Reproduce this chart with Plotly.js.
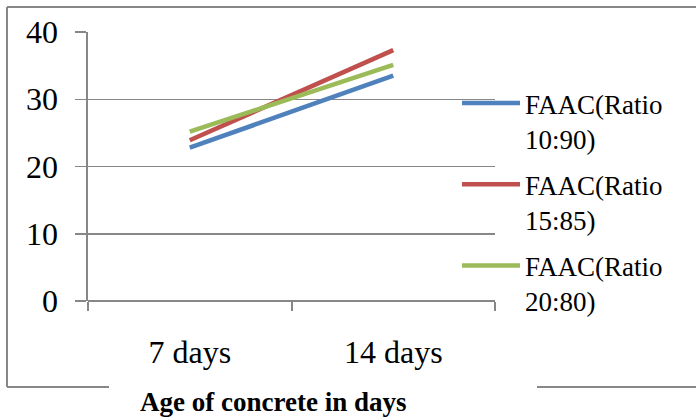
<!DOCTYPE html>
<html>
<head>
<meta charset="utf-8">
<script src="https://cdn.plot.ly/plotly-3.0.1.min.js"></script>
<style>
  html, body { margin: 0; padding: 0; background: #fff; }
  #chart { width: 696px; height: 420px; }
</style>
</head>
<body>
<div id="chart"></div>
<script>
// Concrete age categories
const ages = ['7 days', '14 days'];

// Strength per mix ratio
const ratio10_90 = [22.8, 33.5];
const ratio15_85 = [23.9, 37.3];
const ratio20_80 = [25.2, 35.1];

const seriesNames = ['FAAC(Ratio<br>10:90)', 'FAAC(Ratio<br>15:85)', 'FAAC(Ratio<br>20:80)'];
const seriesColors = ['#4F81BD', '#C0504D', '#9BBB59'];
const seriesValues = [ratio10_90, ratio15_85, ratio20_80];

const yTicks = [0, 10, 20, 30, 40];
const xTitle = 'Age of concrete in days';

const gridGrey = '#878787';
const serif = 'Liberation Serif';

const traces = seriesValues.map((vals, i) => ({
  type: 'scatter',
  mode: 'lines',
  x: ages,
  y: vals,
  name: seriesNames[i],
  legendgroup: 'g' + i,
  line: { color: seriesColors[i], width: 4.5, shape: 'linear' },
  hoverinfo: 'skip'
}));

// Plot-area geometry in pixels, and helpers to place paper-referenced items
const L = 88, W = 407, T = 32, H = 269;
const px = v => (v - L) / W;
const py = v => (T + H - v) / H;

// Frame around the chart, broken at the bottom where the axis title sits
const frame = { type: 'line', xref: 'paper', yref: 'paper', line: { color: gridGrey, width: 2 } };
const shapes = [
  Object.assign({}, frame, { x0: px(7), x1: px(7), y0: py(7), y1: py(387) }),
  Object.assign({}, frame, { x0: px(7), x1: px(697), y0: py(7), y1: py(7) }),
  Object.assign({}, frame, { x0: px(7), x1: px(109), y0: py(387), y1: py(387) }),
  Object.assign({}, frame, { x0: px(537), x1: px(697), y0: py(387), y1: py(387) })
];

const layout = {
  width: 696,
  height: 420,
  margin: { l: L, r: 696 - L - W, t: T, b: 420 - T - H },
  paper_bgcolor: '#ffffff',
  plot_bgcolor: '#ffffff',
  font: { family: serif, color: '#000000' },
  showlegend: true,
  legend: {
    x: px(457),
    y: py(79),
    xanchor: 'left',
    yanchor: 'top',
    bgcolor: 'rgba(0,0,0,0)',
    font: { family: serif, size: 27, color: '#000000' },
    valign: 'top',
    tracegroupgap: 8,
    itemwidth: 58
  },
  xaxis: {
    type: 'category',
    range: [-0.5, 1.5],
    showgrid: false,
    showline: false,
    zeroline: false,
    ticks: 'outside',
    tickson: 'boundaries',
    ticklen: 9,
    tickwidth: 2,
    tickcolor: gridGrey,
    ticklabelstandoff: 29,
    tickfont: { family: serif, size: 32, color: '#000000' },
    fixedrange: true
  },
  yaxis: {
    range: [0, 40],
    tickvals: yTicks,
    ticktext: yTicks.map(String),
    showgrid: true,
    gridcolor: gridGrey,
    gridwidth: 1.5,
    showline: true,
    linecolor: gridGrey,
    linewidth: 2.5,
    zeroline: true,
    zerolinecolor: gridGrey,
    zerolinewidth: 2.5,
    ticks: 'outside',
    ticklen: 11,
    tickwidth: 1.5,
    tickcolor: gridGrey,
    ticklabelstandoff: 10,
    tickfont: { family: serif, size: 32, color: '#000000' },
    fixedrange: true
  },
  annotations: [{
    text: '<b>' + xTitle + '</b>',
    xref: 'paper', yref: 'paper',
    x: px(273), y: py(402),
    xanchor: 'center', yanchor: 'middle',
    showarrow: false,
    font: { family: serif, size: 27, color: '#000000' }
  }],
  shapes: shapes
};

Plotly.newPlot('chart', traces, layout, { displayModeBar: false, staticPlot: true });
</script>
</body>
</html>
